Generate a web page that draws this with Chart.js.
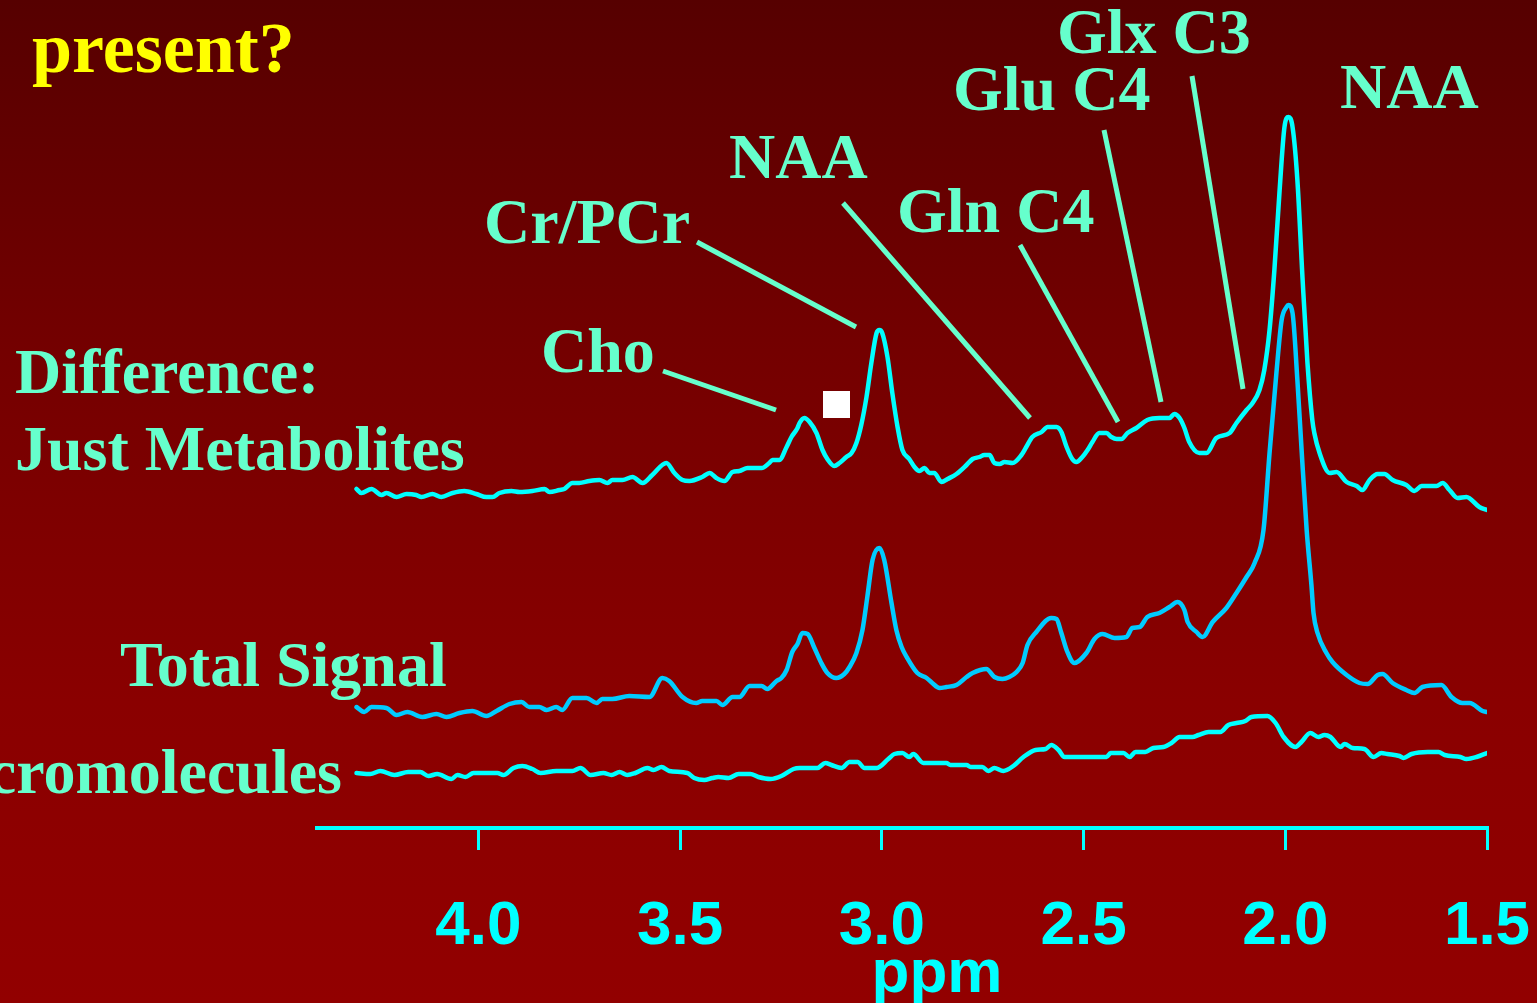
<!DOCTYPE html>
<html>
<head>
<meta charset="utf-8">
<title>Metabolite and macromolecule spectra</title>
<script src="https://cdn.jsdelivr.net/npm/chart.js@4.4.1/dist/chart.umd.min.js"></script>
<style>
  html, body {
    margin: 0;
    padding: 0;
    width: 1537px;
    height: 1003px;
    overflow: hidden;
    background: linear-gradient(to bottom, #560000 0%, #740000 35%, #8a0000 70%, #920000 100%);
  }
  canvas { display: block; }
</style>
</head>
<body>
<canvas id="spectra" width="1537" height="1003"></canvas>
<script>
// Chemical shift axis (ppm) ticks
const tickValues = [4.0, 3.5, 3.0, 2.5, 2.0, 1.5];
const tickLabels = ['4.0', '3.5', '3.0', '2.5', '2.0', '1.5'];

// Difference spectrum: just metabolites (a.u. above its own baseline)
const metabPpm = [
  4.302, 4.290, 4.265, 4.240, 4.228, 4.203, 4.178, 4.154, 4.141, 4.114,
  4.092, 4.064, 4.035, 4.005, 3.980, 3.965, 3.948, 3.918, 3.898, 3.866,
  3.836, 3.824, 3.799, 3.787, 3.767, 3.750, 3.725, 3.700, 3.680, 3.668,
  3.643, 3.618, 3.593, 3.569, 3.534, 3.514, 3.494, 3.477, 3.445, 3.427,
  3.410, 3.390, 3.370, 3.353, 3.333, 3.298, 3.279, 3.271, 3.254, 3.236,
  3.224, 3.209, 3.204, 3.192, 3.179, 3.162, 3.147, 3.135, 3.118, 3.105,
  3.088, 3.075, 3.063, 3.051, 3.038, 3.026, 3.013, 3.006, 2.999, 2.986,
  2.974, 2.961, 2.949, 2.932, 2.919, 2.907, 2.894, 2.882, 2.870, 2.852,
  2.837, 2.815, 2.790, 2.775, 2.758, 2.746, 2.733, 2.721, 2.708, 2.696,
  2.676, 2.654, 2.642, 2.627, 2.604, 2.589, 2.567, 2.555, 2.542, 2.528,
  2.518, 2.503, 2.490, 2.478, 2.461, 2.443, 2.431, 2.418, 2.406, 2.391,
  2.369, 2.342, 2.312, 2.287, 2.275, 2.262, 2.250, 2.238, 2.213, 2.195,
  2.171, 2.138, 2.121, 2.096, 2.081, 2.064, 2.052, 2.039, 2.027, 2.014,
  2.002, 1.992, 1.982, 1.970, 1.957, 1.945, 1.933, 1.928, 1.915, 1.890,
  1.873, 1.848, 1.823, 1.809, 1.791, 1.771, 1.754, 1.734, 1.700, 1.680,
  1.662, 1.625, 1.610, 1.593, 1.573, 1.551, 1.519, 1.500
];
const metabSignal = [
  0.5, -1.5, 0.5, -2.5, -1.5, -3.5, -2, -2.5, -3.5, -2,
  -3.5, -1.5, -0.5, -2, -3.5, -3.5, -1.5, -0.5, -1, -0.5,
  0.5, -1, 0, 0.5, 3.5, 3.5, 4.5, 5, 3.5, 5,
  5, 6.5, 3.5, 7.5, 13.5, 8.5, 5, 4.5, 6.5, 8.5,
  6, 4.5, 9, 9.5, 11, 11, 13.5, 15, 15, 21.5,
  26.5, 31, 33.5, 36, 34, 28.5, 20, 15.5, 12, 13.5,
  16.5, 18.5, 23.5, 32.5, 46.5, 63.5, 78.5, 80, 78.5, 66.5,
  48.5, 31.5, 20, 15.5, 11.5, 9.5, 11, 8.5, 8.5, 4,
  5.5, 8, 12.5, 15.5, 16.5, 17.5, 17.5, 13.5, 13, 14,
  13.5, 17.5, 21.5, 26.5, 29, 31.5, 31.5, 29, 21.5, 15.5,
  14, 16.5, 20, 24, 28.5, 28.5, 26.5, 25.5, 25.5, 28.5,
  31, 35, 36, 36, 38, 36, 31, 24, 18.5, 18.5,
  26, 28.5, 33.5, 40, 43.5, 50, 60, 80, 110, 150,
  181.5, 186.5, 181.5, 155, 105, 63.5, 35, 28.5, 18.5, 8.5,
  9, 4, 2, 0, 5, 8, 8, 5, 2.5, -0.5,
  2, 2, 3.5, 0, -4, -3.5, -8.5, -10
];

// Total signal spectrum
const totalPpm = [
  4.302, 4.283, 4.265, 4.228, 4.203, 4.176, 4.139, 4.104, 4.079, 4.047,
  4.015, 3.980, 3.955, 3.923, 3.893, 3.874, 3.849, 3.831, 3.807, 3.792,
  3.767, 3.732, 3.707, 3.693, 3.668, 3.626, 3.576, 3.544, 3.527, 3.494,
  3.460, 3.445, 3.410, 3.395, 3.370, 3.353, 3.328, 3.298, 3.284, 3.261,
  3.249, 3.236, 3.222, 3.209, 3.197, 3.184, 3.167, 3.150, 3.135, 3.113,
  3.093, 3.080, 3.063, 3.048, 3.036, 3.023, 3.006, 2.994, 2.976, 2.964,
  2.951, 2.937, 2.912, 2.889, 2.875, 2.857, 2.840, 2.815, 2.790, 2.775,
  2.741, 2.721, 2.701, 2.684, 2.666, 2.651, 2.639, 2.617, 2.580, 2.567,
  2.555, 2.540, 2.523, 2.493, 2.473, 2.453, 2.423, 2.394, 2.379, 2.361,
  2.342, 2.312, 2.287, 2.267, 2.250, 2.242, 2.220, 2.205, 2.180, 2.146,
  2.121, 2.096, 2.076, 2.054, 2.039, 2.022, 2.009, 1.997, 1.992,
  1.982, 1.970, 1.960, 1.947, 1.935, 1.930, 1.920, 1.898, 1.883, 1.848,
  1.816, 1.796, 1.771, 1.759, 1.734, 1.700, 1.680, 1.660, 1.613, 1.588,
  1.561, 1.543, 1.511, 1.500
];
const totalSignal = [
  1.5, -1, 1.5, 1, -2.5, -1, -3.5, -2, -3.5, -1.5,
  -0.5, -3, -0.5, 3, 4, 1.5, 1.5, 0, 1.5, 0,
  6, 6, 3.5, 5.5, 5.5, 7, 6.5, 16, 14.5, 6.5,
  3.5, 4.5, 4.5, 2.5, 6.5, 6.5, 12, 12, 10.5, 14.5,
  16, 20, 29, 33, 38.5, 38, 31, 23.5, 18.5, 16,
  18, 21.5, 28.5, 40, 56.5, 75, 81, 75, 53.5, 40,
  31.5, 26, 18.5, 16, 13.5, 11, 11.5, 12.5, 16.5, 18.5,
  20.5, 16.5, 15.5, 16.5, 19, 23.5, 32.5, 39, 46, 45.5,
  38.5, 29, 23.5, 28.5, 35.5, 38, 36, 36.5, 41, 41.5,
  46.5, 48.5, 51.5, 54, 50, 44, 39, 36.5, 44, 51,
  58.5, 66.5, 73.5, 90, 128.5, 168.5, 195, 201.5, 202.5,
  198.5, 165, 131.5, 90, 62, 48.5, 38.5, 28.5, 24, 17.5,
  13.5, 13, 17.5, 18, 13.5, 10, 8.5, 11.5, 12.5, 6.5,
  3.5, 3.5, -0.5, -1
];

// Macromolecule spectrum
const macroPpm = [
  4.302, 4.268, 4.243, 4.208, 4.174, 4.144, 4.124, 4.102, 4.067, 4.052,
  4.032, 4.012, 3.953, 3.938, 3.913, 3.891, 3.866, 3.846, 3.807, 3.767,
  3.747, 3.722, 3.690, 3.670, 3.650, 3.631, 3.611, 3.581, 3.566, 3.546,
  3.527, 3.482, 3.465, 3.440, 3.420, 3.405, 3.380, 3.355, 3.326, 3.306,
  3.276, 3.249, 3.219, 3.204, 3.160, 3.140, 3.125, 3.100, 3.080, 3.060,
  3.043, 3.013, 2.984, 2.969, 2.949, 2.932, 2.922, 2.897, 2.840, 2.830,
  2.790, 2.780, 2.751, 2.736, 2.721, 2.699, 2.674, 2.649, 2.619, 2.594,
  2.580, 2.562, 2.547, 2.443, 2.433, 2.401, 2.386, 2.371, 2.347, 2.327,
  2.302, 2.282, 2.262, 2.230, 2.215, 2.190, 2.161, 2.141, 2.121, 2.099,
  2.084, 2.044, 2.024, 2.004, 1.975, 1.960, 1.938, 1.918, 1.903, 1.888,
  1.863, 1.853, 1.833, 1.804, 1.781, 1.762, 1.747, 1.717, 1.707, 1.687,
  1.647, 1.620, 1.605, 1.566, 1.551, 1.526, 1.500
];
const macroSignal = [
  -0.5, -1, 0.5, -1.5, 0, 0, -2, -1, -3.5, -1.5,
  -2.5, -0.5, -0.5, -1.5, 2, 3, 1.5, -0.5, 0.5, 0.5,
  2, -1.5, -0.5, -1.5, 0, -1.5, -0.5, 2, 1, 2.5,
  0.5, -0.5, -3, -4, -3, -2.5, -3, -1, -1, -2.5,
  -3.5, -2, 1.5, 2, 2, 4.5, 3.5, 2, 5, 5,
  2, 2, 6.5, 9, 9.5, 7.5, 9, 4.5, 4.5, 3.5,
  3.5, 2.5, 2.5, 0.5, 2, 0.5, 3, 7.5, 11, 11.5,
  13.5, 11, 7.5, 7.5, 9.5, 9.5, 7.5, 10, 10, 12,
  12.5, 14.5, 17.5, 17.5, 18.5, 20, 20, 23.5, 24.5, 25.5,
  27.5, 28, 24.5, 17.5, 12.5, 15, 19.5, 17.5, 18.5, 17.5,
  12.5, 14, 12, 11.5, 7.5, 9.5, 9, 8, 7, 9,
  10, 10, 8.5, 7.5, 6.5, 7.5, 9.5
];

// Vertical stacking of the three traces (a.u.)
const traceOffset = { metab: 169, total: 59, macro: 28 };

const labelColor = '#66ffcc';
const serifBold = 'bold 64px "Liberation Serif", "Times New Roman", serif';

function toPoints(xs, ys, offset) {
  const n = Math.min(xs.length, ys.length);
  const pts = [];
  for (let i = 0; i < n; i++) pts.push({ x: xs[i], y: ys[i] + offset });
  return pts;
}

// Peak names, trace names and leader lines
const peakLabels = {
  id: 'peakLabels',
  afterDraw(chart) {
    const ctx = chart.ctx;
    ctx.save();

    // leader lines from peak names down to the peaks
    const leaders = [
      [663, 371, 776, 410],   // Cho
      [697, 242, 856, 327],   // Cr/PCr
      [843, 203, 1030, 418],  // NAA
      [1020, 245, 1118, 422], // Gln C4
      [1104, 130, 1161, 402], // Glu C4
      [1192, 76, 1243, 389]   // Glx C3
    ];
    ctx.strokeStyle = labelColor;
    ctx.lineWidth = 5;
    ctx.lineCap = 'butt';
    leaders.forEach(([x1, y1, x2, y2]) => {
      ctx.beginPath();
      ctx.moveTo(x1, y1);
      ctx.lineTo(x2, y2);
      ctx.stroke();
    });

    // small white marker
    ctx.fillStyle = '#ffffff';
    ctx.fillRect(823, 391, 27, 27);

    ctx.textBaseline = 'alphabetic';
    ctx.font = serifBold;
    ctx.fillStyle = labelColor;
    ctx.textAlign = 'left';
    const texts = [
      ['Glx C3', 1057, 53],
      ['Glu C4', 953, 110],
      ['NAA', 1340, 108],
      ['NAA', 729, 178],
      ['Gln C4', 897, 232],
      ['Cr/PCr', 484, 243],
      ['Cho', 541, 372],
      ['Difference:', 15, 393],
      ['Just Metabolites', 15, 470],
      ['Total Signal', 120, 686]
    ];
    texts.forEach(([t, x, y]) => ctx.fillText(t, x, y));
    ctx.textAlign = 'right';
    ctx.fillText('Macromolecules', 342, 793);

    ctx.textAlign = 'left';
    ctx.fillStyle = '#ffff00';
    ctx.font = 'bold 72px "Liberation Serif", "Times New Roman", serif';
    ctx.fillText('present?', 32, 72);

    // axis unit
    ctx.fillStyle = '#00ffff';
    ctx.font = 'bold 62px "Liberation Sans", Arial, sans-serif';
    ctx.textAlign = 'center';
    ctx.fillText('ppm', 937, 992);

    ctx.restore();
  }
};

new Chart(document.getElementById('spectra'), {
  type: 'line',
  data: {
    datasets: [
      {
        label: 'Difference: Just Metabolites',
        data: toPoints(metabPpm, metabSignal, traceOffset.metab),
        borderColor: '#00ffff'
      },
      {
        label: 'Total Signal',
        data: toPoints(totalPpm, totalSignal, traceOffset.total),
        borderColor: '#00ccff'
      },
      {
        label: 'Macromolecules',
        data: toPoints(macroPpm, macroSignal, traceOffset.macro),
        borderColor: '#00ffff'
      }
    ]
  },
  options: {
    responsive: false,
    animation: false,
    devicePixelRatio: 1,
    layout: { padding: { left: 317, right: 50, top: 28, bottom: 0 } },
    elements: {
      line: {
        borderWidth: 4.5,
        fill: false,
        cubicInterpolationMode: 'monotone',
        borderJoinStyle: 'round',
        borderCapStyle: 'round'
      },
      point: { radius: 0, hoverRadius: 0 }
    },
    scales: {
      x: {
        type: 'linear',
        reverse: true,
        min: 1.5,
        max: 4.4,
        afterBuildTicks(scale) {
          scale.ticks = tickValues.map(v => ({ value: v }));
        },
        afterFit(scale) {
          scale.height = 175;
          scale.paddingLeft = 0;
          scale.paddingRight = 0;
        },
        ticks: {
          color: '#00ffff',
          autoSkip: false,
          maxRotation: 0,
          padding: 40,
          font: { family: '"Liberation Sans", Arial, sans-serif', size: 62, weight: 'bold', lineHeight: 1.2 },
          callback: (v) => tickLabels[tickValues.indexOf(v)]
        },
        grid: {
          drawOnChartArea: false,
          drawTicks: true,
          tickLength: 22,
          color: '#00ffff',
          lineWidth: 3
        },
        border: { display: true, color: '#00ffff', width: 4 }
      },
      y: { display: false, min: 0, max: 400 }
    },
    plugins: {
      legend: { display: false },
      tooltip: { enabled: false }
    }
  },
  plugins: [peakLabels]
});
</script>
</body>
</html>
